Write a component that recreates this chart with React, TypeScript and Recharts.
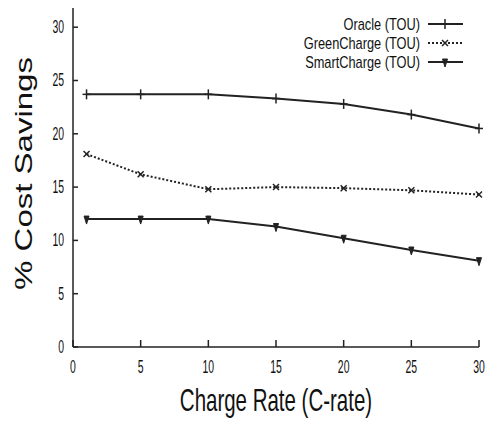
import { LineChart, Line, XAxis, YAxis, Legend } from 'recharts'

const chargeRates = [1, 5, 10, 15, 20, 25, 30]
const oracleTou = [23.7, 23.7, 23.7, 23.3, 22.8, 21.8, 20.5]
const greenChargeTou = [18.1, 16.2, 14.8, 15.0, 14.9, 14.7, 14.3]
const smartChargeTou = [12.0, 12.0, 12.0, 11.3, 10.2, 9.1, 8.1]
const xTicks = [0, 5, 10, 15, 20, 25, 30]
const yTicks = [0, 5, 10, 15, 20, 25, 30]

const data = chargeRates.map((rate, i) => ({
  rate,
  oracle: oracleTou[i],
  green: greenChargeTou[i],
  smart: smartChargeTou[i],
}))

const FONT = '"Liberation Sans", Arial, Helvetica, sans-serif'
const INK = '#222'
const TEXT = '#111'

type Marker = 'plus' | 'cross' | 'drop'

// horizontally squeezed text, the source picture is narrowed
function SText({ x, y, sx, size, anchor = 'start', children }: any) {
  return (
    <text
      transform={`translate(${x},${y}) scale(${sx},1)`}
      textAnchor={anchor}
      fontFamily={FONT}
      fontSize={size}
      fill={TEXT}
    >
      {children}
    </text>
  )
}

function drawMarker(kind: Marker, cx: number, cy: number) {
  if (kind === 'plus') {
    return (
      <g>
        <line x1={cx} y1={cy - 5} x2={cx} y2={cy + 5} stroke={INK} strokeWidth={1.5} />
        <line x1={cx - 4} y1={cy} x2={cx + 4} y2={cy} stroke={INK} strokeWidth={1.5} />
      </g>
    )
  }
  if (kind === 'cross') {
    return (
      <g>
        <line x1={cx - 3} y1={cy - 3} x2={cx + 3} y2={cy + 3} stroke={INK} strokeWidth={1.5} />
        <line x1={cx - 3} y1={cy + 3} x2={cx + 3} y2={cy - 3} stroke={INK} strokeWidth={1.5} />
      </g>
    )
  }
  return (
    <path
      d={`M${cx - 2.5},${cy - 3} L${cx + 2.5},${cy - 3} L${cx},${cy + 5} Z`}
      fill={INK}
      stroke={INK}
      strokeWidth={1}
    />
  )
}

const series = [
  { key: 'oracle', name: 'Oracle (TOU)', marker: 'plus' as Marker, dash: undefined },
  { key: 'green', name: 'GreenCharge (TOU)', marker: 'cross' as Marker, dash: '2 2' },
  { key: 'smart', name: 'SmartCharge (TOU)', marker: 'drop' as Marker, dash: undefined },
]

function XTick({ x, y, payload }: any) {
  return (
    <g>
      <line x1={x} y1={y} x2={x} y2={y - 7} stroke={INK} strokeWidth={1.5} />
      <SText x={x} y={y + 26} sx={0.58} size={18} anchor="middle">
        {payload.value}
      </SText>
    </g>
  )
}

function YTick({ x, y, payload }: any) {
  return (
    <g>
      <line x1={x} y1={y} x2={x + 5} y2={y} stroke={INK} strokeWidth={1.5} />
      <SText x={x - 9} y={y + 6} sx={0.58} size={18} anchor="end">
        {payload.value}
      </SText>
    </g>
  )
}

function LegendBox() {
  return (
    <svg width={210} height={60}>
      {series.map((s, i) => {
        const cy = 12 + i * 19
        return (
          <g key={s.key}>
            <SText x={150} y={cy + 5.5} sx={0.8} size={16} anchor="end">
              {s.name}
            </SText>
            <line x1={158} y1={cy} x2={193} y2={cy} stroke={INK} strokeWidth={2} strokeDasharray={s.dash} />
            {drawMarker(s.marker, 175, cy)}
          </g>
        )
      })}
    </svg>
  )
}

export default function App() {
  return (
    <div style={{ position: 'absolute', left: 0, top: 0, background: '#fff' }}>
      <LineChart width={488} height={422} data={data} margin={{ top: 8, right: 9, left: 0, bottom: 0 }}>
        <XAxis
          dataKey="rate"
          type="number"
          domain={[0, 30]}
          ticks={xTicks}
          height={75}
          tickSize={0}
          tickMargin={0}
          tickLine={false}
          stroke={INK}
          strokeWidth={1.5}
          tick={<XTick />}
          label={({ viewBox }: any) => (
            <SText x={viewBox.x + viewBox.width / 2} y={viewBox.y + 64} sx={0.64} size={32} anchor="middle">
              Charge Rate (C-rate)
            </SText>
          )}
        />
        <YAxis
          type="number"
          domain={[0, 31.8]}
          ticks={yTicks}
          width={73}
          tickSize={0}
          tickMargin={0}
          tickLine={false}
          stroke={INK}
          strokeWidth={1.5}
          tick={<YTick />}
          label={({ viewBox }: any) => (
            <text
              transform={`translate(24,${viewBox.y + viewBox.height / 2 - 4}) scale(0.75,1) rotate(-90)`}
              textAnchor="middle"
              dominantBaseline="central"
              fontFamily={FONT}
              fontSize={33}
              fill={TEXT}
            >
              % Cost Savings
            </text>
          )}
        />
        <Legend
          layout="vertical"
          align="center"
          verticalAlign="middle"
          wrapperStyle={{ position: 'absolute', left: 270, top: 12, width: 210, height: 60 }}
          content={() => <LegendBox />}
        />
        {series.map((s) => (
          <Line
            key={s.key}
            dataKey={s.key}
            name={s.name}
            stroke={INK}
            strokeWidth={2}
            strokeDasharray={s.dash}
            isAnimationActive={false}
            dot={(p: any) => <g key={`${s.key}-${p.index}`}>{drawMarker(s.marker, p.cx, p.cy)}</g>}
            activeDot={false}
          />
        ))}
      </LineChart>
    </div>
  )
}
